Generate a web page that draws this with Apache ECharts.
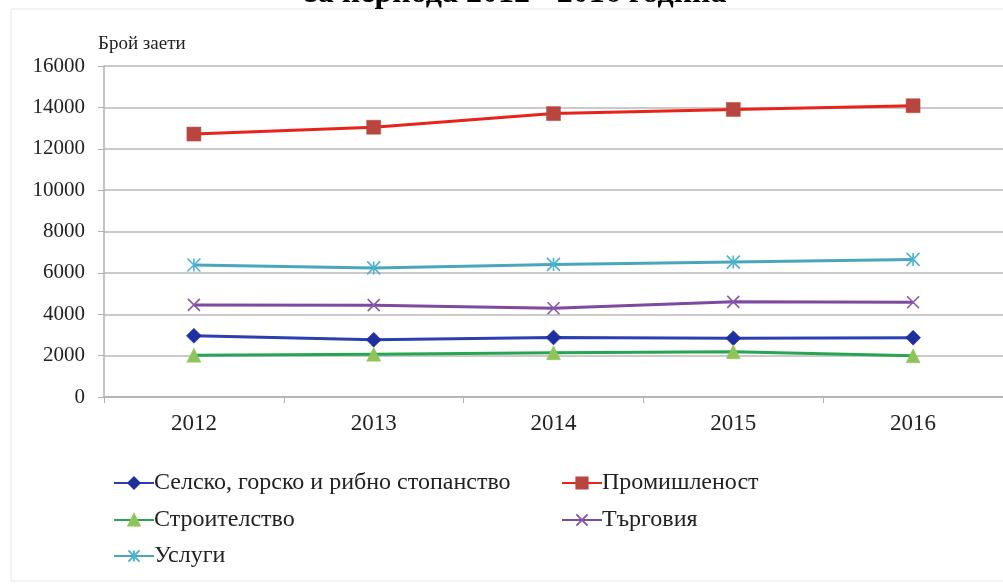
<!DOCTYPE html>
<html><head><meta charset="utf-8">
<script src="https://cdn.jsdelivr.net/npm/echarts@6/dist/echarts.min.js"></script>
<style>html,body{margin:0;padding:0;background:#fff}#c{width:1003px;height:585px}</style>
</head><body><div id="c"></div>
<script>
const years = ['2012','2013','2014','2015','2016'];
const agri = [2960, 2770, 2880, 2840, 2870];
const industry = [12710, 13040, 13700, 13900, 14080];
const construction = [2020, 2070, 2140, 2190, 1990];
const trade = [4450, 4440, 4290, 4600, 4580];
const services = [6380, 6240, 6410, 6520, 6650];
const names = ['Селско, горско и рибно стопанство','Промишленост','Строителство','Търговия','Услуги'];
const yTicks = [0,2000,4000,6000,8000,10000,12000,14000,16000];

const font = 'Liberation Serif, Times New Roman, serif';
const xSym = 'path://M0,0L10,10M10,0L0,10';
const starSym = 'path://M0,0L10,10M10,0L0,10M5,0L5,10';

function mk(name, data, lineColor, sym, symColor, size, stroke){
  return {
    name, type:'line', data, symbol: sym, symbolSize: size,
    lineStyle:{color: lineColor, width: 3},
    itemStyle: stroke ? {color: 'none', borderColor: symColor, borderWidth: 1.6} : {color: symColor, borderColor: symColor, borderWidth: 0.5},
    color: lineColor,
    emphasis:{disabled:true}, animation:false
  };
}
function leg(n, left, top){
  return {data:[n], left, top, itemWidth:40, itemHeight:14,
    textStyle:{fontFamily:font, fontSize:24, color:'#222', padding:[0,0,0,-5]}, selectedMode:false};
}
const chart = echarts.init(document.getElementById('c'));
chart.setOption({
  backgroundColor:'#fff',
  animation:false,
  title:{text:'за периода 2012 - 2016 година', left:300, top:-27,
    textStyle:{fontFamily:font, fontSize:32, fontWeight:'bold', color:'#000'}},
  graphic:[{type:'rect', shape:{x:11, y:9, width:1000, height:572}, style:{fill:'none', stroke:'#e6e6e6', lineWidth:1}, silent:true, z:-1}],
  grid:{left:104, right:0, top:66, bottom:188},
  xAxis:{type:'category', data: years, boundaryGap:true,
    axisLine:{lineStyle:{color:'#b0b0b0', width:1.5}},
    axisTick:{show:true, alignWithLabel:false, length:6, lineStyle:{color:'#b0b0b0'}},
    axisLabel:{fontFamily:font, fontSize:23, color:'#222', margin:15}},
  yAxis:{type:'value', min:0, max:16000, interval:2000,
    name:'Брой заети', nameLocation:'end', nameGap:12,
    nameTextStyle:{fontFamily:font, fontSize:19, color:'#222', align:'left', padding:[0,0,0,-6]},
    axisLine:{show:true, lineStyle:{color:'#b0b0b0', width:1.5}},
    axisTick:{show:true, length:6, lineStyle:{color:'#b0b0b0'}},
    splitLine:{lineStyle:{color:'#b8b8b8', width:1.5}},
    axisLabel:{fontFamily:font, fontSize:21, color:'#222', margin:19,
      formatter: v => yTicks.includes(v) ? String(v) : ''}},
  legend:[
    leg(names[0], 108, 466),
    leg(names[1], 556, 466),
    leg(names[2], 108, 503),
    leg(names[3], 556, 503),
    leg(names[4], 108, 539)
  ],
  series:[
    mk(names[0], agri, '#2b3fb0', 'diamond', '#1f2fa0', 15, false),
    mk(names[1], industry, '#e8231c', 'rect', '#b8463f', 14, false),
    mk(names[2], construction, '#27a552', 'triangle', '#8fc45a', 14, false),
    mk(names[3], trade, '#7d4a9f', xSym, '#8a5aa8', 12, true),
    mk(names[4], services, '#4aa6bf', starSym, '#4fb3cf', 13, true)
  ]
});
</script></body></html>
